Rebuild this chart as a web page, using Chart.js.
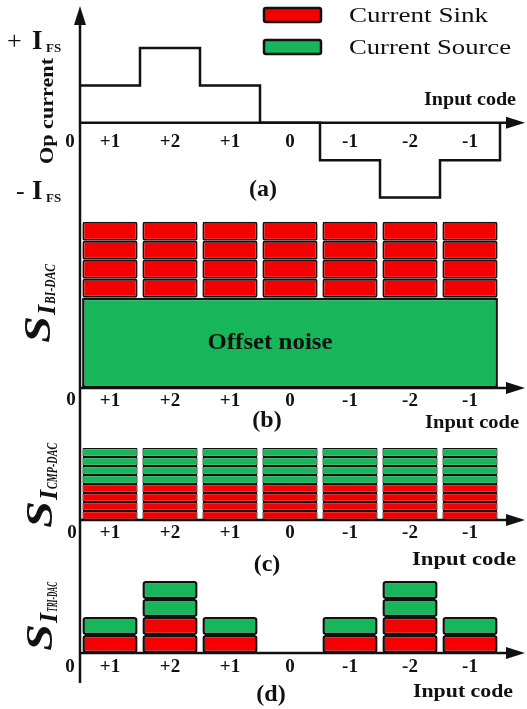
<!DOCTYPE html>
<html>
<head>
<meta charset="utf-8">
<script src="https://cdn.jsdelivr.net/npm/chart.js@4.4.1/dist/chart.umd.min.js"></script>
<style>
  body { margin: 0; background: #fff; }
  #wrap { position: relative; width: 527px; height: 709px; background: #fff; overflow: hidden; }
  #wrap canvas { position: absolute; left: 0; }
</style>
</head>
<body>
<div id="wrap">
  <canvas id="chartA" width="527" height="207" style="top:0"></canvas>
  <canvas id="chartB" width="527" height="228" style="top:207px"></canvas>
  <canvas id="chartC" width="527" height="143" style="top:435px"></canvas>
  <canvas id="chartD" width="527" height="149" style="top:560px"></canvas>
</div>
<script>
// input codes along the x axis
var codeLabels = ['+1', '+2', '+1', '0', '-1', '-2', '-1'];
// (a) output current, in units of I_FS / 2
var opCurrent = [1, 2, 1, 0, -1, -2, -1];
// (b) BI-DAC: offset block plus sink cells per code
var offsetNoise = 4.75;
var sinkBi = [4, 4, 4, 4, 4, 4, 4];
// (c) CMP-DAC: sink and source cells per code
var sinkCmp = [4, 4, 4, 4, 4, 4, 4];
var sourceCmp = [4, 4, 4, 4, 4, 4, 4];
// (d) TRI-DAC: sink and source cells per code
var sinkTri = [1, 2, 1, 0, 1, 2, 1];
var sourceTri = [1, 2, 1, 0, 1, 2, 1];

var RED = '#f40000';
var GREEN = '#17b65a';
var INK = '#111111';
var SERIF = '"Liberation Serif", "Times New Roman", serif';

function codeAxis(pad) {
    return {
        type: 'category',
        labels: codeLabels,
        offset: true,
        position: { y: 0 },
        grid: { display: false, drawTicks: false },
        border: { display: false },
        ticks: {
            color: INK,
            font: { family: SERIF, size: 19, weight: 'bold' },
            padding: pad,
            autoSkip: false,
            maxRotation: 0
        },
        afterFit: function (scale) { scale.height = 0; }
    };
}

// one dataset per layer of cells, each cell a floating bar
function cellSets(units, baseOf, color, border, radius) {
    var top = Math.max.apply(null, units);
    var sets = [];
    for (var k = 0; k < top; k++) {
        sets.push({
            data: units.map(function (u, i) {
                return k < u ? [baseOf(i) + k, baseOf(i) + k + 1] : null;
            }),
            xAxisID: 'x',
            backgroundColor: color,
            borderColor: INK,
            borderWidth: border,
            borderSkipped: false,
            borderRadius: radius,
            grouped: false,
            barPercentage: 0.92,
            categoryPercentage: 1
        });
    }
    return sets;
}

// text stretched sideways to a given width
function fit(ctx, s, x, y, font, align, width, baseline) {
    ctx.font = font;
    ctx.textBaseline = baseline || 'middle';
    ctx.textAlign = 'left';
    var w = ctx.measureText(s).width;
    var k = width ? width / w : 1;
    var ww = w * k;
    var left = align === 'center' ? x - ww / 2 : align === 'right' ? x - ww : x;
    ctx.save();
    ctx.translate(left, y);
    ctx.scale(k, 1);
    ctx.fillText(s, 0, 0);
    ctx.restore();
    return ww;
}

function arrow(ctx, x, y, dir) {
    ctx.beginPath();
    if (dir === 'up') {
        ctx.moveTo(x, y); ctx.lineTo(x - 6, y + 19); ctx.lineTo(x + 6, y + 19);
    } else {
        ctx.moveTo(x, y); ctx.lineTo(x - 19, y - 6); ctx.lineTo(x - 19, y + 6);
    }
    ctx.closePath();
    ctx.fill();
}

// rotated S_{I_sub} label; x = baseline, y = lower end (canvas coords)
function sLabel(ctx, x, y, sub, subWidth) {
    ctx.save();
    ctx.translate(x, y);
    ctx.rotate(-Math.PI / 2);
    var u = fit(ctx, 'S', 0, 0, 'italic bold 38px ' + SERIF, 'left', 27, 'alphabetic') + 1;
    u += fit(ctx, 'I', u, 5, 'italic bold 26px ' + SERIF, 'left', 0, 'alphabetic') + 1;
    fit(ctx, sub, u, 5, 'italic bold 14px ' + SERIF, 'left', subWidth, 'alphabetic');
    ctx.restore();
}

var tickFont = 'bold 19px ' + SERIF;
var labelFont = 'bold 24px ' + SERIF;
var codeFont = 'bold 18px ' + SERIF;

var extras = {
    a: function (ctx, chart, top) {
        fit(ctx, '0', 70, 142 - top, tickFont, 'center');
        fit(ctx, '(a)', 263, 190 - top, labelFont, 'center');
        fit(ctx, 'Input code', 516, 100 - top, codeFont, 'right', 92);
        // +I_FS / -I_FS
        ctx.textBaseline = 'alphabetic';
        ctx.textAlign = 'left';
        ctx.font = '26px ' + SERIF;
        ctx.fillText('+', 7, 49);
        ctx.fillText('-', 16, 199);
        ctx.font = 'bold 27px ' + SERIF;
        ctx.fillText('I', 32, 49);
        ctx.fillText('I', 32, 199);
        ctx.font = 'bold 13px ' + SERIF;
        ctx.fillText('FS', 46, 52);
        ctx.fillText('FS', 46, 202);
        // Op current
        ctx.save();
        ctx.translate(48, 111);
        ctx.rotate(-Math.PI / 2);
        fit(ctx, 'Op current', 0, 0, 'bold 19px ' + SERIF, 'center', 106);
        ctx.restore();
        // legend
        [[RED, 'Current Sink', 8, 16, 139], [GREEN, 'Current Source', 40, 48, 162]].forEach(function (e) {
            ctx.beginPath();
            ctx.roundRect(264, e[2], 57, 14, 2);
            ctx.fillStyle = e[0];
            ctx.fill();
            ctx.lineWidth = 2.5;
            ctx.strokeStyle = INK;
            ctx.stroke();
            ctx.fillStyle = INK;
            fit(ctx, e[1], 349, e[3], '21px ' + SERIF, 'left', e[4]);
        });
    },
    b: function (ctx, chart, top) {
        fit(ctx, '0', 71, 400 - top, tickFont, 'center');
        fit(ctx, '(b)', 267, 421 - top, labelFont, 'center');
        fit(ctx, 'Input code', 519, 423 - top, codeFont, 'right', 94);
        var el = chart.getDatasetMeta(0).data[0];
        fit(ctx, 'Offset noise', el.x - 20, (el.y + el.base) / 2, 'bold 24px ' + SERIF, 'center', 125);
        sLabel(ctx, 50, 343 - top, 'BI-DAC', 40);
    },
    c: function (ctx, chart, top) {
        fit(ctx, '0', 72, 533 - top, tickFont, 'center');
        fit(ctx, '(c)', 267, 565 - top, labelFont, 'center');
        fit(ctx, 'Input code', 516, 560 - top, codeFont, 'right', 104);
        sLabel(ctx, 52, 528 - top, 'CMP-DAC', 46);
    },
    d: function (ctx, chart, top) {
        fit(ctx, '0', 70, 667 - top, tickFont, 'center');
        fit(ctx, '(d)', 271, 695 - top, labelFont, 'center');
        fit(ctx, 'Input code', 513, 692 - top, codeFont, 'right', 100);
        sLabel(ctx, 52, 651 - top, 'TRI-DAC', 30);
    }
};

var decor = {
    id: 'decor',
    afterDraw: function (chart, args, o) {
        var ctx = chart.ctx;
        var area = chart.chartArea;
        var x0 = area.left;
        var y0 = chart.scales.y.getPixelForValue(0);
        ctx.save();
        ctx.strokeStyle = INK;
        ctx.fillStyle = INK;
        ctx.lineWidth = 2.5;
        ctx.beginPath();
        ctx.moveTo(x0, o.yTop);
        ctx.lineTo(x0, o.yBottom);
        ctx.moveTo(x0, y0);
        ctx.lineTo(510, y0);
        ctx.stroke();
        if (o.arrowUp) arrow(ctx, x0, o.yTop - 14, 'up');
        arrow(ctx, 525, y0, 'right');
        extras[o.panel](ctx, chart, o.top);
        ctx.restore();
    }
};

function baseOptions(padding, ymin, ymax, decorOpts, extraScales) {
    var scales = { x: codeAxis(decorOpts.tickPad), y: { display: false, min: ymin, max: ymax } };
    Object.keys(extraScales || {}).forEach(function (k) { scales[k] = extraScales[k]; });
    return {
        responsive: false,
        animation: false,
        layout: { padding: padding },
        plugins: { legend: { display: false }, tooltip: { enabled: false }, decor: decorOpts },
        scales: scales
    };
}

// (a) op current vs input code
new Chart(document.getElementById('chartA'), {
    type: 'line',
    data: {
        labels: codeLabels,
        datasets: [{
            data: opCurrent.map(function (v, i) { return { x: i, y: v }; })
                .concat([{ x: opCurrent.length, y: 0 }]),
            xAxisID: 'xs',
            stepped: true,
            borderColor: INK,
            borderWidth: 2.5,
            pointRadius: 0,
            fill: false,
            clip: false
        }]
    },
    options: baseOptions({ left: 80, right: 27, top: 8, bottom: 2 }, -2.2, 3.07,
        { panel: 'a', top: 0, yTop: 20, yBottom: 207, arrowUp: true, tickPad: 8 },
        { xs: { type: 'linear', display: false, min: 0, max: codeLabels.length } }),
    plugins: [decor]
});

// (b) BI-DAC
new Chart(document.getElementById('chartB'), {
    type: 'bar',
    data: {
        labels: codeLabels,
        datasets: [{
            data: [offsetNoise],
            xAxisID: 'xn',
            backgroundColor: GREEN,
            borderColor: INK,
            borderWidth: 2.5,
            borderSkipped: false,
            grouped: false,
            barPercentage: 0.99,
            categoryPercentage: 1
        }].concat(cellSets(sinkBi, function () { return offsetNoise; }, RED, 2, 2))
    },
    options: baseOptions({ left: 80, right: 27, top: 0, bottom: 0 }, -2.474, 9.526,
        { panel: 'b', top: 207, yTop: 0, yBottom: 228, tickPad: 2 },
        { xn: { type: 'category', labels: ['all'], display: false, offset: true } }),
    plugins: [decor]
});

// (c) CMP-DAC
new Chart(document.getElementById('chartC'), {
    type: 'bar',
    data: {
        labels: codeLabels,
        datasets: cellSets(sinkCmp, function () { return 0; }, RED, 1.2, 1)
            .concat(cellSets(sourceCmp, function (i) { return sinkCmp[i]; }, GREEN, 1.2, 1))
    },
    options: baseOptions({ left: 80, right: 27, top: 0, bottom: 0 }, -6.444, 9.444,
        { panel: 'c', top: 435, yTop: 0, yBottom: 143, tickPad: 2 }),
    plugins: [decor]
});

// (d) TRI-DAC
new Chart(document.getElementById('chartD'), {
    type: 'bar',
    data: {
        labels: codeLabels,
        datasets: cellSets(sinkTri, function () { return 0; }, RED, 2.5, 3)
            .concat(cellSets(sourceTri, function (i) { return sinkTri[i]; }, GREEN, 2.5, 3))
    },
    options: baseOptions({ left: 80, right: 27, top: 0, bottom: 0 }, -3.111, 5.1667,
        { panel: 'd', top: 560, yTop: 18, yBottom: 123, tickPad: 3 }),
    plugins: [decor]
});
</script>
</body>
</html>
